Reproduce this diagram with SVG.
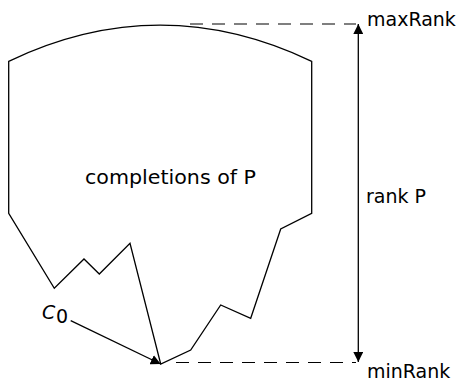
<svg xmlns="http://www.w3.org/2000/svg" width="463" height="382" viewBox="0 0 463 382">
<style>
.ln{fill:none;stroke:#000;stroke-width:1.3}
.ds{fill:none;stroke:#000;stroke-width:1.1;stroke-dasharray:13,9}
.t{font-family:"DejaVu Sans",sans-serif;font-size:19px;fill:#000}
</style>
<defs>
<marker id="ah" viewBox="0 0 10 10" refX="10" refY="5" markerWidth="10" markerHeight="10" markerUnits="userSpaceOnUse" orient="auto-start-reverse">
<path d="M0,0 L10,5 L0,10 Z" fill="#000"/>
</marker>
</defs>
<g id="completions">
<path class="ln" d="M8.7,61.3 Q160,-11 311.7,61.3 L311.7,213.3 L280.7,229 L250.7,318.3 L220.7,305 L190.7,350 L160.7,364 L130,243.3 L99.3,274 L84,259 L54.3,288.3 L8.7,213.3 Z"/>
<text class="t" x="85" y="184" textLength="171" lengthAdjust="spacingAndGlyphs">completions of P</text>
</g>
<g id="c0">
<text class="t" x="42" y="319" font-style="italic">C</text>
<text class="t" x="56" y="323" font-size="13">0</text>
</g>
<g id="maxRank"><text class="t" x="367" y="26">maxRank</text></g>
<g id="minRank"><text class="t" x="367" y="378">minRank</text></g>
<g id="rankP"><text class="t" x="366" y="203">rank P</text></g>
<g id="connectors">
<path class="ds" d="M190,24 L356,24"/>
<path class="ds" d="M176,362.5 L356,362.5"/>
<path class="ln" d="M358.3,24 L358.3,362" marker-start="url(#ah)" marker-end="url(#ah)"/>
<path class="ln" d="M70.7,320.7 L160.7,364" marker-end="url(#ah)"/>
</g>
</svg>
